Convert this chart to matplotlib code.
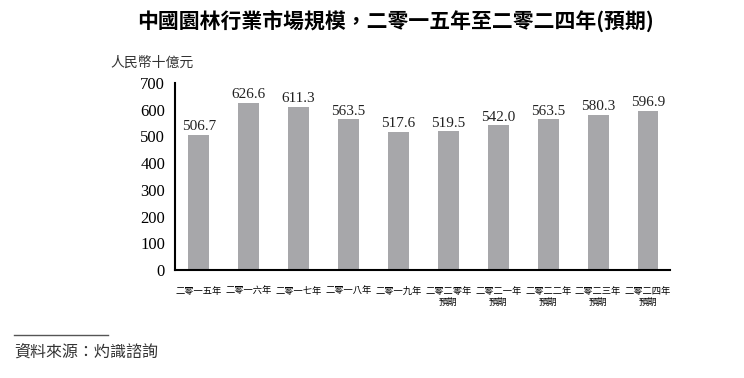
import matplotlib.pyplot as plt

plt.rcParams['font.family'] = ['Noto Sans CJK TC', 'DejaVu Sans']

years = ["二零一五年", "二零一六年", "二零一七年", "二零一八年", "二零一九年",
         "二零二零年\n預期", "二零二一年\n預期", "二零二二年\n預期", "二零二三年\n預期", "二零二四年\n預期"]
values = [506.7, 626.6, 611.3, 563.5, 517.6, 519.5, 542.0, 563.5, 580.3, 596.9]
yticks = [0, 100, 200, 300, 400, 500, 600, 700]

fig = plt.figure(figsize=(7.44, 3.78), dpi=100)
ax = fig.add_axes([0.235, 0.2857, 0.6655, 0.4947])

x = list(range(len(values)))
ax.bar(x, values, width=0.42, color="#a7a7aa")
for xi, v in zip(x, values):
    ax.text(xi, v + 6, f"{v:.1f}", ha="center", va="bottom",
            fontsize=11, family="Liberation Serif", color="#222222")

ax.set_xlim(-0.48, 9.44)
ax.set_ylim(0, 700)
ax.set_yticks(yticks)
ax.set_yticklabels([str(t) for t in yticks], family="Liberation Serif", fontsize=12)
ax.set_xticks(x)
ax.set_xticklabels(years, fontsize=6.7, linespacing=1.25, va="top")
ax.tick_params(axis="both", length=0, pad=7)
ax.tick_params(axis="x", pad=12)
ax.spines["top"].set_visible(False)
ax.spines["right"].set_visible(False)
ax.spines["left"].set_linewidth(1.5)
ax.spines["bottom"].set_linewidth(1.5)

fig.text(0.531, 0.945, "中國園林行業市場規模，二零一五年至二零二四年(預期)",
         ha="center", va="center", fontsize=15, fontweight="bold")
fig.text(0.148, 0.835, "人民幣十億元", ha="left", va="center", fontsize=10,
         style="italic", color="#333333")

fig.add_artist(plt.Line2D([0.019, 0.145], [0.113, 0.113], color="#555555", lw=1))
fig.text(0.019, 0.068, "資料來源：灼識諮詢", ha="left", va="center", fontsize=11.5,
         style="italic", color="#333333")

fig.savefig("out.png", dpi=100)
